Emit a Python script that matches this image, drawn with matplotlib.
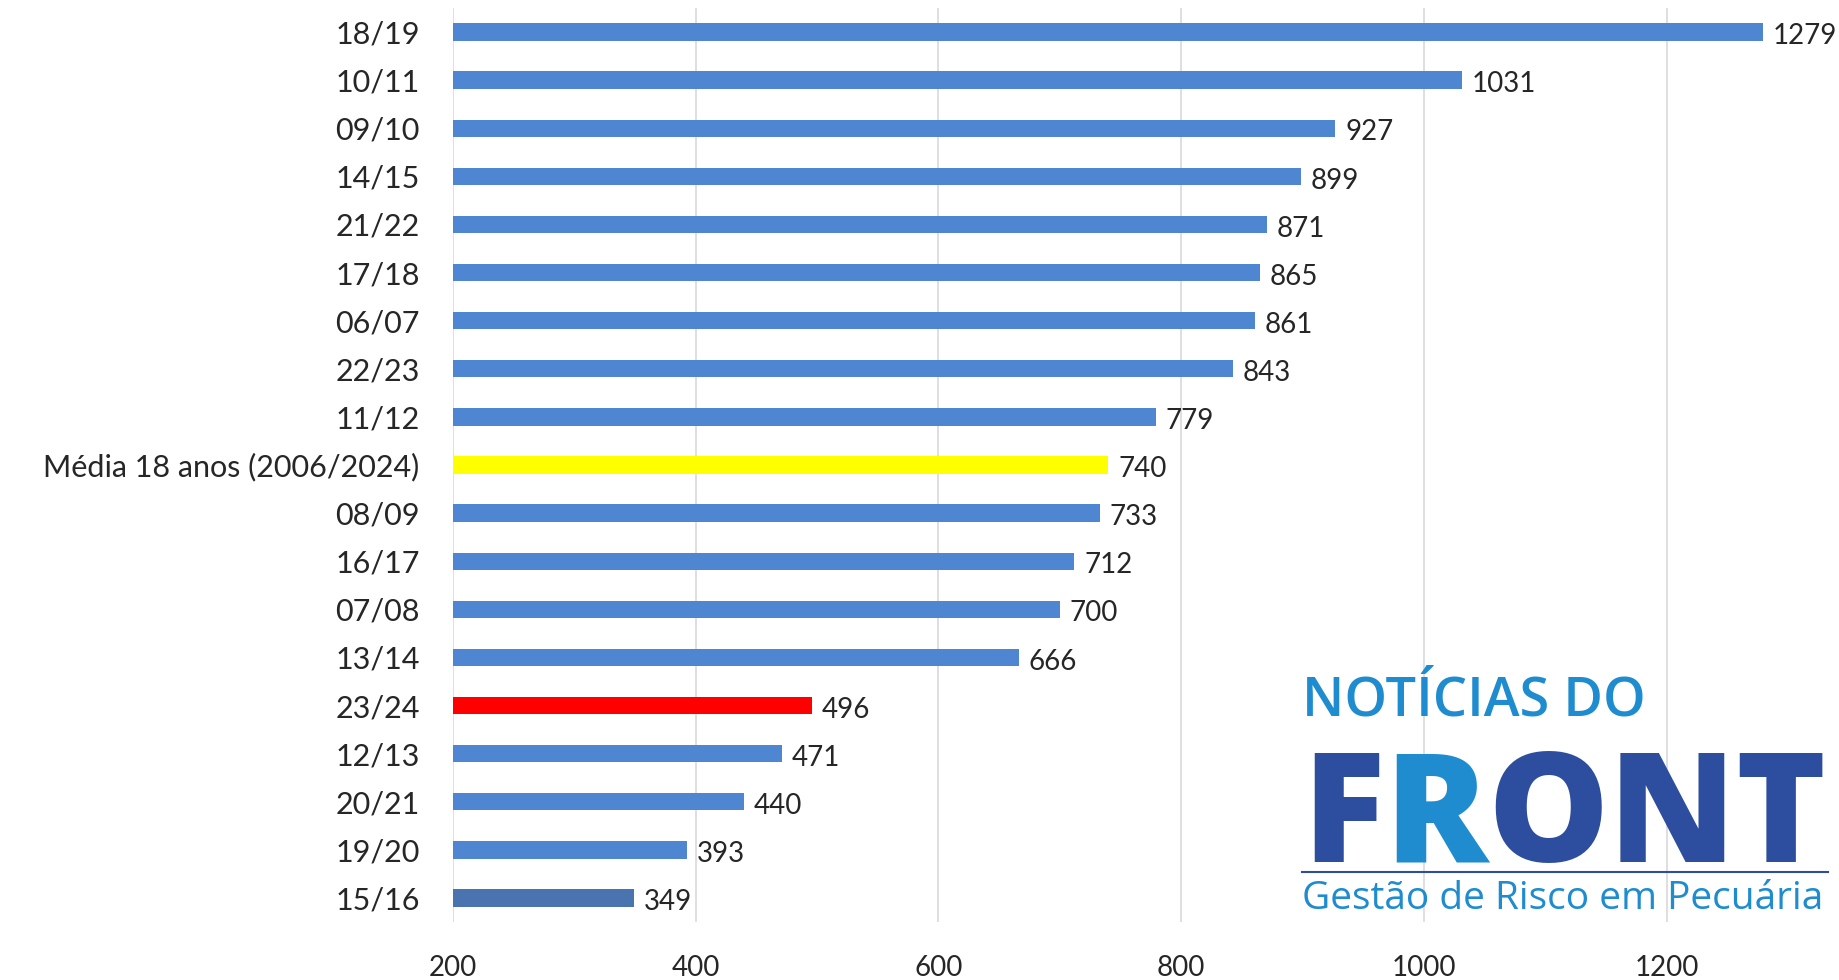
import matplotlib.pyplot as plt
import numpy as np

# Safras (de cima para baixo) e valores
safras = ['18/19', '10/11', '09/10', '14/15', '21/22', '17/18', '06/07', '22/23',
          '11/12', 'Média 18 anos (2006/2024)', '08/09', '16/17', '07/08', '13/14',
          '23/24', '12/13', '20/21', '19/20', '15/16']
valores = [1279, 1031, 927, 899, 871, 865, 861, 843, 779, 740, 733, 712, 700, 666,
           496, 471, 440, 393, 349]

azul = '#4F86D1'
cores = [azul] * len(safras)
cores[safras.index('Média 18 anos (2006/2024)')] = '#FFFF00'
cores[safras.index('23/24')] = '#FF0000'
cores[safras.index('15/16')] = '#4A74B0'

plt.rcParams['font.family'] = ['Lato', 'DejaVu Sans']

W, H = 1839, 980
fig = plt.figure(figsize=(W / 100, H / 100), dpi=100)
ax = fig.add_axes([453 / W, 1 - 922 / H, (1788 - 453) / W, (922 - 8) / H])

y = np.arange(len(safras))[::-1]
ax.barh(y, valores, height=0.36, color=cores, zorder=3)

for yi, v in zip(y, valores):
    ax.annotate(f'{v}', xy=(v, yi), xytext=(7, -3), textcoords='offset points',
                ha='left', va='center', fontsize=20, color='#262626')

ax.set_xlim(200, 1300)
ax.set_ylim(-0.5, len(safras) - 0.5)
ax.set_xticks([200, 400, 600, 800, 1000, 1200])
ax.set_yticks(y)
ax.set_yticklabels(safras)
ax.tick_params(axis='both', length=0, colors='#262626')
ax.tick_params(axis='x', pad=24, labelsize=20)
ax.tick_params(axis='y', pad=24, labelsize=22)
ax.grid(axis='x', color='#D9D9D9', linewidth=1.2, zorder=0)
for s in ax.spines.values():
    s.set_visible(False)

# Logo "Notícias do Front"
claro = '#1E8CCF'
escuro = '#2D4E9E'
px = lambda x, yy: (x / W, 1 - yy / H)

fig.text(*px(1302, 716), 'NOTÍCIAS DO', fontsize=39, color=claro,
         family='Open Sans', fontweight='semibold', ha='left', va='baseline')

r = fig.canvas.get_renderer()
partes = [('F', escuro), ('R', claro), ('ONT', escuro)]
tam = 130
# ajusta o tamanho para caber na largura do logo
while True:
    tot = 0
    for txt, c in partes:
        t = fig.text(0, 0, txt, fontsize=tam, family='Open Sans', fontweight='heavy')
        tot += t.get_window_extent(r).width
        t.remove()
    if tot <= 526 or tam < 40:
        break
    tam -= 1
x0 = 1302
for txt, c in partes:
    t = fig.text(*px(x0, 862), txt, fontsize=tam, color=c, family='Open Sans',
                 fontweight='heavy', ha='left', va='baseline')
    x0 += t.get_window_extent(r).width

fig.add_artist(plt.Line2D([1302 / W, 1828 / W], [1 - 872 / H, 1 - 872 / H],
                          color=escuro, linewidth=1.5))
fig.text(*px(1302, 909), 'Gestão de Risco em Pecuária', fontsize=28, color=claro,
         family='Open Sans', ha='left', va='baseline')

plt.savefig('out.png', dpi=100)
